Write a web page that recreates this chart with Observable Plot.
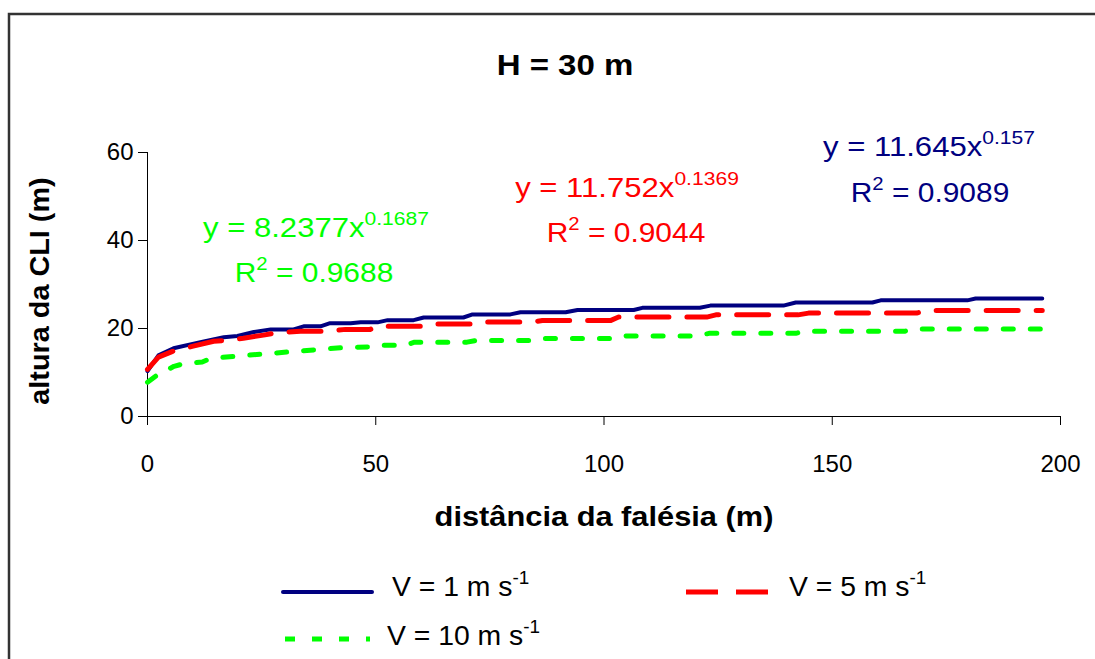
<!DOCTYPE html>
<html><head><meta charset="utf-8">
<script src="https://cdn.jsdelivr.net/npm/d3@7"></script>
<script src="https://cdn.jsdelivr.net/npm/@observablehq/plot@0.6"></script>
<style>body{margin:0;background:#fff} svg{display:block}</style>
</head><body><div id="chart"></div>
<script>
// ---- data ----
const seriesNames = ["V = 1 m s", "V = 5 m s", "V = 10 m s"];
const xTicks = [0, 50, 100, 150, 200];
const yTicks = [0, 20, 40, 60];

const x1 = [0, 2.4, 5.7, 11.6, 16.7, 19.7, 23.3, 27, 32, 34.2, 37.9, 40, 44.5, 46.7, 50.4, 52.6, 58.3, 60.5, 69.2, 71.2, 79.5, 81.7, 91.6, 94.2, 106.5, 108.4, 121, 123.3, 139.3, 142, 158.8, 160.6, 179.6, 181.4, 196];
const y1 = [10.3, 13.9, 15.5, 16.9, 18.0, 18.3, 19.2, 19.8, 19.8, 20.5, 20.5, 21.2, 21.2, 21.4, 21.4, 21.9, 21.9, 22.5, 22.5, 23.2, 23.2, 23.7, 23.7, 24.2, 24.2, 24.7, 24.7, 25.2, 25.2, 25.9, 25.9, 26.4, 26.4, 26.8, 26.8];

const x2 = [0, 2.4, 5.5, 10, 14.5, 17, 21, 25.4, 28, 33.5, 39.4, 43.4, 48.8, 50.4, 59.8, 61.8, 71, 73, 84.5, 86.5, 101.4, 103.2, 122.5, 124.5, 142.5, 144.8, 168.5, 170.8, 196];
const y2 = [10.7, 13.5, 14.8, 16.0, 17.1, 17.3, 17.8, 18.5, 19.0, 19.4, 19.4, 19.8, 19.8, 20.5, 20.5, 21.0, 21.0, 21.5, 21.5, 21.8, 21.8, 22.6, 22.6, 23.1, 23.1, 23.5, 23.5, 24.1, 24.1];

const x3 = [0, 2.1, 5.8, 7.6, 12, 13.8, 19.3, 25.1, 31.3, 37.2, 43.4, 48.5, 50.3, 56.5, 58.5, 70, 72, 84.6, 86.7, 102.5, 104.9, 120.5, 123, 142, 144, 166, 168, 196];
const y3 = [7.8, 9.4, 11.4, 11.9, 12.4, 13.2, 13.7, 14.2, 14.7, 15.2, 15.7, 15.8, 16.2, 16.2, 16.9, 16.9, 17.3, 17.3, 17.7, 17.7, 18.3, 18.3, 18.9, 18.9, 19.4, 19.4, 19.9, 19.9];

const eqCoef = ["11.645", "11.752", "8.2377"];
const eqExp = ["0.157", "0.1369", "0.1687"];
const eqR2 = ["0.9089", "0.9044", "0.9688"];

const colors = ["#000080", "#ff0000", "#00ff00"];
const FONT = "'Liberation Sans', Arial, Helvetica, sans-serif";

const toRows = (xs, ys) => xs.map((x, i) => ({x, y: ys[i]}));
const d1 = toRows(x1, y1), d2 = toRows(x2, y2), d3r = toRows(x3, y3);

const chart = Plot.plot({
  width: 1095, height: 659,
  marginLeft: 147, marginRight: 35, marginTop: 152, marginBottom: 243,
  style: {fontFamily: FONT, fontSize: "24px", color: "black", background: "white", overflow: "visible"},
  x: {domain: [0, 200]},
  y: {domain: [0, 60]},
  marks: [
    Plot.axisX({ticks: xTicks, tickSize: 9, tickPadding: 29, label: null, fontSize: 24}),
    Plot.axisY({ticks: yTicks, tickSize: 9, tickPadding: 5, label: null, fontSize: 24}),
    Plot.ruleX([0], {stroke: "black", strokeWidth: 1}),
    Plot.ruleY([0], {stroke: "black", strokeWidth: 1}),
    Plot.line(d1, {x: "x", y: "y", stroke: colors[0], strokeWidth: 4, strokeLinecap: "round", strokeLinejoin: "round"}),
    Plot.line(d2, {x: "x", y: "y", stroke: colors[1], strokeWidth: 5, strokeDasharray: "32,18", strokeLinejoin: "round"}),
    Plot.line(d3r, {x: "x", y: "y", stroke: colors[2], strokeWidth: 5, strokeDasharray: "10,17", strokeLinejoin: "round"})
  ]
});
document.getElementById("chart").appendChild(chart);

const svg = d3.select(chart);
// outer border
svg.append("rect").attr("x", 9).attr("y", 14).attr("width", 1300).attr("height", 900)
  .attr("fill", "none").attr("stroke", "#333").attr("stroke-width", 2.5);

function txt(x, y, s, opts = {}) {
  const sx = opts.sx || 1.1;
  const rot = opts.rotate ? " rotate(-90)" : "";
  return svg.append("text").attr("x", 0).attr("y", 0)
    .attr("transform", `translate(${x},${y})${rot} scale(${sx},1)`)
    .attr("font-family", FONT).attr("font-size", opts.size || 28)
    .attr("font-weight", opts.bold ? "bold" : "normal")
    .attr("fill", opts.fill || "black")
    .attr("text-anchor", opts.anchor || "middle")
    .text(s);
}
// title and axis labels
txt(565, 75, "H = 30 m", {size: 30, bold: true});
txt(604, 526, "distância da falésia (m)", {size: 28, bold: true});
txt(49, 291, "altura da CLI (m)", {size: 28, bold: true, rotate: true, sx: 1.03});

// equations
const eqPos = [[929, 156, 930, 202], [627, 197, 626, 242], [316, 237, 314, 282]];
eqPos.forEach((p, i) => {
  const t1 = txt(p[0], p[1], "", {fill: colors[i], sx: 1.11});
  t1.append("tspan").text("y = " + eqCoef[i] + "x");
  t1.append("tspan").attr("dy", -12).attr("font-size", 19).text(eqExp[i]);
  const t2 = txt(p[2], p[3], "", {fill: colors[i], sx: 1.07});
  t2.append("tspan").text("R");
  t2.append("tspan").attr("dy", -12).attr("font-size", 19).text("2");
  t2.append("tspan").attr("dy", 12).text(" = " + eqR2[i]);
});

// legend
const leg = [
  {x0: 283, x1: 372, y: 592, tx: 392, ty: 596},
  {x0: 686, x1: 770, y: 592, tx: 789, ty: 596},
  {x0: 285, x1: 370, y: 639, tx: 387, ty: 645}
];
const dashes = [null, "32,18", "10,17"];
const widths = [4, 5, 5];
leg.forEach((l, i) => {
  const ln = svg.append("line").attr("x1", l.x0).attr("x2", l.x1).attr("y1", l.y).attr("y2", l.y)
    .attr("stroke", colors[i]).attr("stroke-width", widths[i]);
  if (dashes[i]) ln.attr("stroke-dasharray", dashes[i]); else ln.attr("stroke-linecap", "round");
  const t = txt(l.tx, l.ty, "", {size: 27, anchor: "start", sx: 1.05});
  t.append("tspan").text(seriesNames[i]);
  t.append("tspan").attr("dy", -12).attr("font-size", 18).text("-1");
});
</script></body></html>
